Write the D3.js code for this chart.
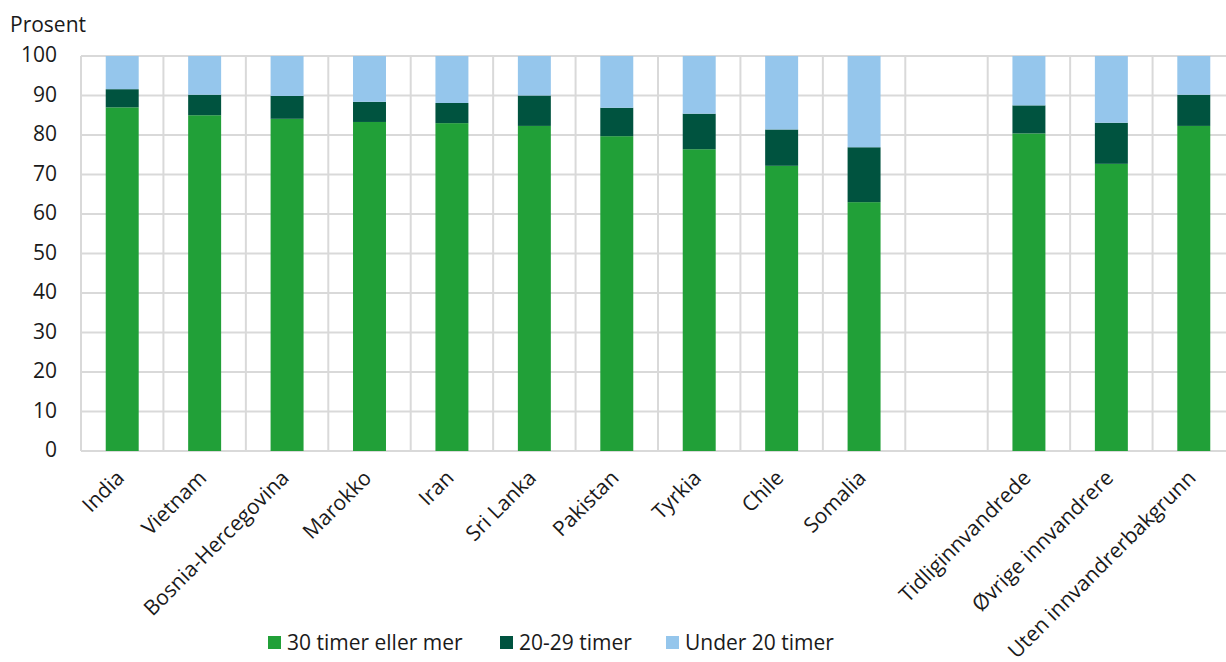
<!DOCTYPE html>
<html><head><meta charset="utf-8">
<script src="https://cdn.jsdelivr.net/npm/d3@7"></script>
<style>
html,body{margin:0;padding:0;background:#fff;}
svg text{font-family:"Open Sans",sans-serif;fill:#1a1a1a;}
</style></head>
<body><svg id="c" width="1226" height="662"></svg>
<script>
const categories = ["India","Vietnam","Bosnia-Hercegovina","Marokko","Iran","Sri Lanka","Pakistan","Tyrkia","Chile","Somalia","","Tidliginnvandrede","Øvrige innvandrere","Uten innvandrerbakgrunn"];
const s30 = [87.0,85.0,84.1,83.3,83.0,82.3,79.7,76.4,72.2,63.0,null,80.4,72.7,82.3];
const s2029 = [4.6,5.2,5.8,5.1,5.1,7.7,7.2,9.0,9.2,13.9,null,7.1,10.4,7.9];
const sUnder = [8.4,9.8,10.1,11.6,11.9,10.0,13.1,14.6,18.6,23.1,null,12.5,16.9,9.8];
const seriesNames = ["30 timer eller mer","20-29 timer","Under 20 timer"];
const colors = ["#21a038","#00533f","#95c6ec"];
const yTicks = [0,10,20,30,40,50,60,70,80,90,100];
const yLabel = "Prosent";

const FS = 21;
const svg = d3.select("#c");
const mLeft = 81, mTop = 56, mBottom = 451, mRight = 1235;
const x = d3.scaleBand().domain(d3.range(categories.length)).range([mLeft,mRight]).padding(0);
const y = d3.scaleLinear().domain([0,100]).range([mBottom,mTop]);
const barW = x.bandwidth()*0.4;
const grid = "#d9d9d9";

svg.append("g").selectAll("line").data(yTicks).join("line")
  .attr("x1",mLeft).attr("x2",1226).attr("y1",d=>y(d)).attr("y2",d=>y(d))
  .attr("stroke",grid).attr("stroke-width",2);
svg.append("g").selectAll("line").data(d3.range(categories.length)).join("line")
  .attr("x1",d=>x(d)).attr("x2",d=>x(d)).attr("y1",mTop).attr("y2",mBottom)
  .attr("stroke",grid).attr("stroke-width",2);

const yAxis = d3.axisLeft(y).tickValues(yTicks).tickSize(0).tickPadding(0);
const ya = svg.append("g").attr("transform",`translate(${mLeft-24},0)`).call(yAxis);
ya.select(".domain").remove();
ya.selectAll("text").attr("font-size",FS).attr("font-family","Open Sans").attr("fill","#1a1a1a").attr("dy","0.27em");

svg.append("text").attr("x",10).attr("y",31.5).attr("font-size",FS).text(yLabel);

const rows = categories.map((c,i)=>({i, a:s30[i], b:s2029[i], c:sUnder[i]}));
const stack = d3.stack().keys(["a","b","c"]);
const st = stack(rows.filter(r=>r.a!=null));
svg.append("g").selectAll("g").data(st).join("g").attr("fill",(d,k)=>colors[k])
  .selectAll("rect").data(d=>d).join("rect")
  .attr("x",d=>x(d.data.i)+x.bandwidth()/2-barW/2).attr("width",barW)
  .attr("y",d=>y(Math.min(d[1],100))).attr("height",d=>y(d[0])-y(Math.min(d[1],100)));

svg.append("g").selectAll("text").data(categories.map((c,i)=>({c,i})).filter(d=>d.c!=="")).join("text")
  .attr("transform",d=>`translate(${x(d.i)+x.bandwidth()/2-2},${mBottom+23}) rotate(-45)`)
  .attr("text-anchor","end").attr("dy","0.35em").attr("font-size",FS).text(d=>d.c);

const legX = [268,500,666];
const lg = svg.append("g").selectAll("g").data(seriesNames).join("g")
  .attr("transform",(d,i)=>`translate(${legX[i]},636)`);
lg.append("rect").attr("width",13).attr("height",13).attr("fill",(d,i)=>colors[i]);
lg.append("text").attr("x",19).attr("y",14).attr("font-size",FS).text(d=>d);
</script></body></html>
